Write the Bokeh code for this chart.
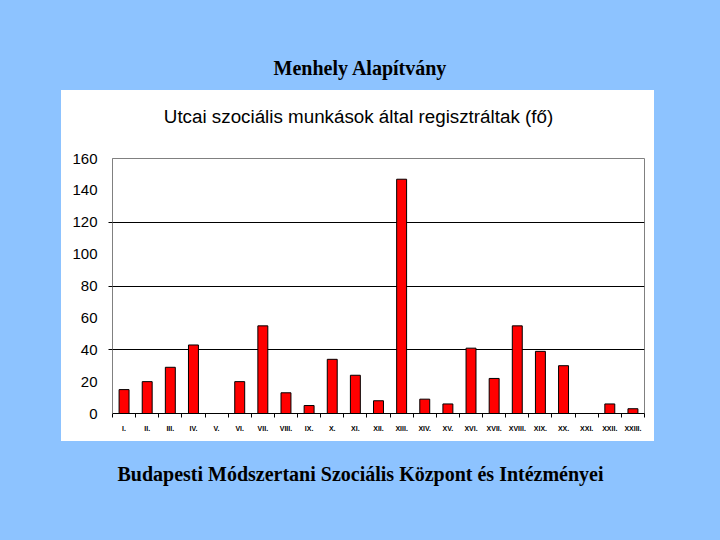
from bokeh.plotting import figure
from bokeh.layouts import column, row
from bokeh.models import FixedTicker, ColumnDataSource, Range1d
from bokeh.core.properties import value
from bokeh.embed import file_html
from bokeh.resources import INLINE

# ---- data ----
categories = ["I.", "II.", "III.", "IV.", "V.", "VI.", "VII.", "VIII.", "IX.", "X.",
              "XI.", "XII.", "XIII.", "XIV.", "XV.", "XVI.", "XVII.", "XVIII.", "XIX.",
              "XX.", "XXI.", "XXII.", "XXIII."]
values = [15, 20, 29, 43, 0, 20, 55, 13, 5, 34, 24, 8, 147, 9, 6, 41, 22, 55, 39, 30, 0, 6, 3]
y_ticks = [0, 20, 40, 60, 80, 100, 120, 140, 160]
grid_lines = [40, 80, 120]

page_title = "Menhely Alapítvány"
chart_title = "Utcai szociális munkások által regisztráltak (fő)"
footer = "Budapesti Módszertani Szociális Központ és Intézményei"

BLUE = "#8DC3FF"


def filler(w, h, color, x0=0, x1=None, **kw):
    f = figure(width=w, height=h, x_range=Range1d(x0, w if x1 is None else x1),
               y_range=Range1d(0, h),
               x_axis_type=None, y_axis_type=None, output_backend="svg",
               toolbar_location=None, min_border=0, outline_line_color=None,
               background_fill_color=color, border_fill_color=color,
               styles={"background-color": color}, **kw)
    return f


# top band
top = filler(720, 90, BLUE)
top.text(x=[360], y=[23], text=[page_title], text_align="center", text_baseline="alphabetic",
         text_font=value("Liberation Serif"), text_font_style="bold",
         text_font_size="20px", text_color="#000000")

# chart title band (white) - borders match the chart so the frame maps 1:1 to panel pixels
tband = filler(593, 50, "white", x0=51, x1=583,
               min_border_left=51, min_border_right=10, min_border_top=0, min_border_bottom=0)
tband.text(x=[297], y=[24.3], text=[chart_title], text_align="center", text_baseline="alphabetic",
           text_font=value("Liberation Sans"), text_font_size="18.8px", text_color="#000000")

# chart
positions = list(range(1, len(categories) + 1))
src = ColumnDataSource(dict(x=positions, top=values, cat=categories))

chart = figure(width=593, height=301, x_range=Range1d(0.5, len(categories) + 0.5),
               y_range=Range1d(0, 160), output_backend="svg", toolbar_location=None,
               min_border_left=51, min_border_right=10, min_border_top=18, min_border_bottom=28,
               background_fill_color="white", border_fill_color="white",
               outline_line_color="#808080", styles={"background-color": "white"})
chart.vbar(x="x", top="top", width=0.43, bottom=0, source=src,
           fill_color="#FF0000", line_color="black", line_width=1)

xa = chart.xaxis[0]
xa.ticker = FixedTicker(ticks=positions, minor_ticks=[p - 0.5 for p in positions] + [len(categories) + 0.5])
xa.major_label_overrides = {p: c for p, c in zip(positions, categories)}
xa.major_tick_line_color = None
xa.major_tick_out = 0
xa.major_tick_in = 0
xa.minor_tick_out = 4
xa.minor_tick_in = 0
xa.minor_tick_line_color = "black"
xa.axis_line_color = "black"
xa.major_label_standoff = 7
xa.major_label_text_font = "Liberation Sans"
xa.major_label_text_font_size = "7px"
xa.major_label_text_font_style = "bold"
xa.major_label_text_color = "black"

ya = chart.yaxis[0]
ya.ticker = FixedTicker(ticks=y_ticks, minor_ticks=grid_lines)
ya.major_tick_line_color = None
ya.major_tick_out = 0
ya.major_tick_in = 0
ya.minor_tick_out = 4
ya.minor_tick_in = 0
ya.minor_tick_line_color = "black"
ya.axis_line_color = "#808080"
ya.major_label_standoff = 11
ya.major_label_text_font = "Liberation Sans"
ya.major_label_text_font_size = "15px"
ya.major_label_text_color = "black"

chart.xgrid.visible = False
chart.ygrid.ticker = FixedTicker(ticks=grid_lines)
chart.ygrid.grid_line_color = "black"
chart.ygrid.grid_line_width = 1.2

left = filler(61, 351, BLUE)
right = filler(66, 351, BLUE)

bottom = filler(720, 99, BLUE)
bottom.text(x=[360], y=[67], text=[footer], text_align="center", text_baseline="alphabetic",
            text_font=value("Liberation Serif"), text_font_style="bold",
            text_font_size="20px", text_color="#000000")

middle = row(left, column(tband, chart, spacing=0, styles={"background-color": "white"}), right,
             spacing=0, styles={"background-color": BLUE})
layout = column(top, middle, bottom, spacing=0, styles={"background-color": BLUE})

open("out.html", "w").write(file_html(layout, INLINE))
